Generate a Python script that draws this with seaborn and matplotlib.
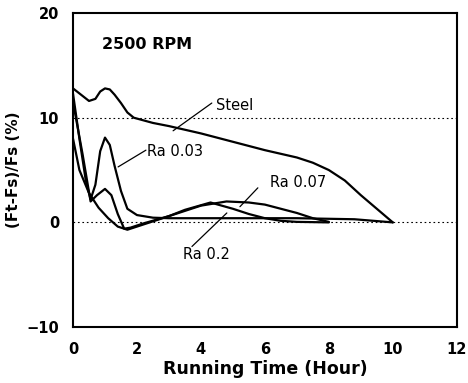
import matplotlib
matplotlib.use("Agg")
import matplotlib.pyplot as plt
import seaborn as sns
import pandas as pd

steel_x = [0, 0.25, 0.5, 0.7, 0.85, 1.0, 1.15, 1.3, 1.5, 1.7, 1.9, 2.5, 3.0, 4.0, 5.0, 6.0, 7.0, 7.5, 8.0, 8.5, 9.0, 9.5, 10.0]
steel_y = [12.8, 12.2, 11.6, 11.8, 12.5, 12.8, 12.7, 12.2, 11.4, 10.5, 10.0, 9.5, 9.2, 8.5, 7.7, 6.9, 6.2, 5.7, 5.0, 4.0, 2.6, 1.3, 0.0]

ra003_x = [0, 0.2, 0.4, 0.55, 0.7, 0.85, 1.0, 1.15, 1.3, 1.5, 1.7, 2.0, 2.5, 3.0, 5.0, 7.0, 8.8, 10.0]
ra003_y = [12.3, 8.0, 4.0, 2.2, 3.6, 6.8, 8.1, 7.4, 5.4, 3.0, 1.3, 0.7, 0.45, 0.4, 0.4, 0.4, 0.3, 0.0]

ra007_x = [0, 0.3, 0.55, 0.75, 1.0, 1.2, 1.4, 1.6, 1.8, 2.2, 3.0, 4.0, 4.8, 5.5, 6.0, 6.5, 7.0, 7.5, 8.0]
ra007_y = [11.5, 6.5, 2.0, 2.6, 3.2, 2.6, 0.8, -0.6, -0.5, -0.1, 0.6, 1.6, 2.0, 1.9, 1.7, 1.3, 0.9, 0.4, 0.05]

ra02_x = [0, 0.2, 0.5, 0.8, 1.1, 1.4, 1.7, 2.0, 2.5, 3.0, 3.5, 4.3, 5.0, 5.5, 6.0, 6.5, 7.0, 8.0]
ra02_y = [8.0, 5.0, 2.8, 1.4, 0.4, -0.4, -0.7, -0.4, 0.1, 0.6, 1.2, 1.9, 1.3, 0.8, 0.4, 0.15, 0.05, 0.0]

series_names = ["Steel", "Ra 0.03", "Ra 0.07", "Ra 0.2"]
x_ticks = [0, 2, 4, 6, 8, 10, 12]
y_ticks = [-10, 0, 10, 20]

frames = []
for name, xs, ys in zip(series_names,
                        [steel_x, ra003_x, ra007_x, ra02_x],
                        [steel_y, ra003_y, ra007_y, ra02_y]):
    frames.append(pd.DataFrame({"x": xs, "y": ys, "series": name}))
df = pd.concat(frames, ignore_index=True)

sns.set_style("white")
plt.rcParams['font.family'] = ['DejaVu Sans']
plt.rcParams['text.color'] = 'black'
plt.rcParams['axes.labelcolor'] = 'black'
plt.rcParams['xtick.color'] = 'black'
plt.rcParams['ytick.color'] = 'black'

fig = plt.figure(figsize=(4.68, 3.83), dpi=100)
ax = fig.add_axes([0.156, 0.146, 0.82, 0.82])

for y0 in [0, 10]:
    ax.axhline(y0, color="black", lw=0.8, ls=(0, (1.5, 2.5)), zorder=1)

sns.lineplot(data=df, x="x", y="y", units="series", estimator=None,
             color="black", lw=1.6, sort=False, ax=ax, legend=False, zorder=3)

ax.set_xlim(0, 12)
ax.set_ylim(-10, 20)
ax.set_xticks(x_ticks)
ax.set_yticks(y_ticks)
ax.set_xticklabels([str(v) for v in x_ticks], fontsize=10.5, fontweight="bold")
ax.set_yticklabels([("\u221210" if v == -10 else str(v)) for v in y_ticks], fontsize=10.5, fontweight="bold")
ax.tick_params(axis="x", length=0, pad=11)
ax.tick_params(axis="y", length=0, pad=10)
for s in ax.spines.values():
    s.set_color("black")
    s.set_linewidth(1.5)

ax.set_xlabel("Running Time (Hour)", fontsize=12.5, fontweight="bold", labelpad=2)
ax.set_ylabel("(Ft-Fs)/Fs (%)", fontsize=11, fontweight="bold", labelpad=4)

ax.text(0.9, 17.0, "2500 RPM", fontsize=11.5, fontweight="bold", va="center", ha="left")

labels = [
    ("Steel", (4.47, 11.2), (4.34, 11.4), (3.13, 8.75)),
    ("Ra 0.03", (2.31, 6.8), (2.28, 6.9), (1.41, 5.3)),
    ("Ra 0.07", (6.16, 3.8), (5.78, 3.3), (5.22, 1.5)),
    ("Ra 0.2", (3.44, -3.1), (3.72, -2.3), (4.81, 0.9)),
]
for text, tpos, l0, l1 in labels:
    ax.text(tpos[0], tpos[1], text, fontsize=10.5, va="center", ha="left")
    ax.plot([l0[0], l1[0]], [l0[1], l1[1]], color="black", lw=0.9)

fig.savefig("out.png", dpi=100)
